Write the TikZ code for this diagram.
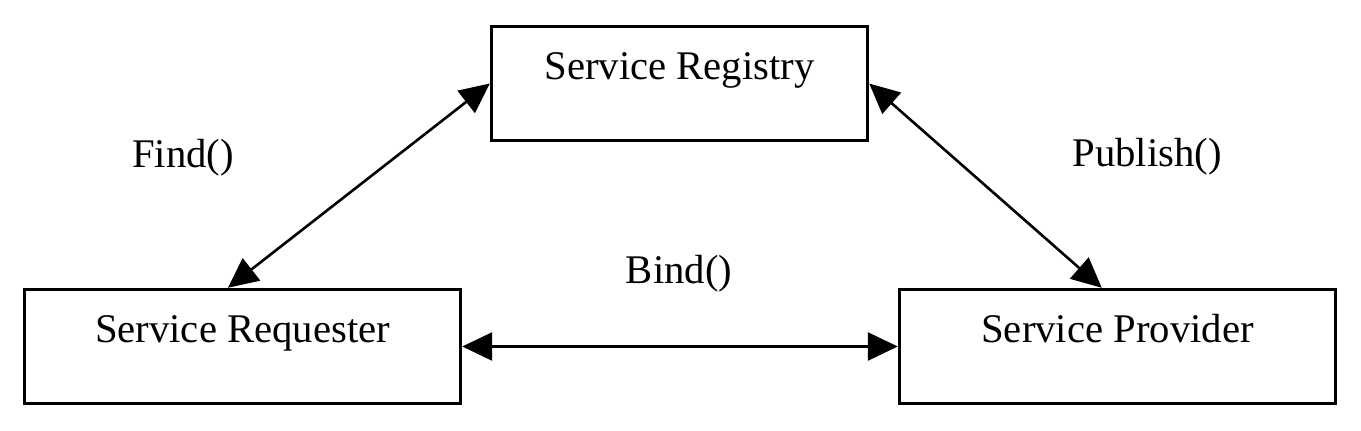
\documentclass[tikz,border=0pt]{standalone}
\usepackage{fontspec}
\setmainfont{Liberation Serif}
\usetikzlibrary{arrows.meta}
\tikzset{
    x={1pt},
    y={-1pt},
    diagram font/.style={
        font={\fontsize{40.7}{48}\selectfont},
    },
    service box/.style={
        draw, line width={3.4pt},
        diagram font,
        inner sep=0pt,
        minimum width={#1},
        minimum height={114},
        text height={27pt},
        text depth={35pt},
    },
    service box/.default={436},
    link/.style={
        draw, line width={2.6pt},
        >={Triangle[length=30pt, width=28pt]},
        <->,
    },
    link label/.style={
        diagram font,
        anchor=base,
        inner sep=0pt,
    },
}

\begin{document}
\begin{tikzpicture}
\useasboundingbox (0,0) rectangle (1361,431);
% services
\node[service box={376}] (registry) at (679.5,83.5) {Service Registry};
\node[service box] (requester) at (242.5,346.5) {Service Requester};
\node[service box] (provider) at (1117.5,346.5) {Service Provider};
% links
\draw[link] (registry.west) -- (requester.104);
\draw[link] (registry.east) -- (provider.105);
\draw[link] (requester.east) -- (provider.west);
% labels
\node[link label] (find) at (183,167) {Find()};
\node[link label] (publish) at (1147,166) {Publish()};
\node[link label] (bind) at (679,283) {Bind()};
\end{tikzpicture}
\end{document}
